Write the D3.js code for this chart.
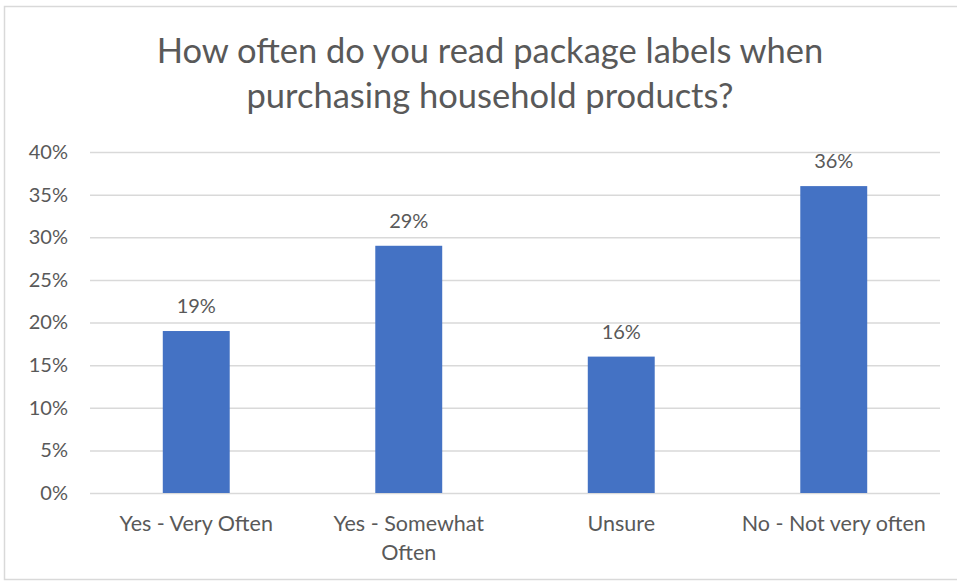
<!DOCTYPE html>
<html>
<head>
<meta charset="utf-8">
<script src="https://cdn.jsdelivr.net/npm/d3@7"></script>
<style>
  html, body { margin: 0; padding: 0; background: #fff; }
  svg { display: block; font-family: Lato, "Open Sans", sans-serif; }
</style>
</head>
<body>
<svg id="chart" width="957" height="582"></svg>
<script>
// Survey responses (share of respondents)
const categories = ["Yes - Very Often", "Yes - Somewhat Often", "Unsure", "No - Not very often"];
const categoryLines = [["Yes - Very Often"], ["Yes - Somewhat", "Often"], ["Unsure"], ["No - Not very often"]];
const shares = [0.19, 0.29, 0.16, 0.36];
const yTicks = [0, 0.05, 0.10, 0.15, 0.20, 0.25, 0.30, 0.35, 0.40];
const titleLines = ["How often do you read package labels when", "purchasing household products?"];

const svg = d3.select("#chart");
const W = 957, H = 582;
const margin = { left: 90, right: 17, top: 152, bottom: 89 };
const textColor = "#595959";
const gridColor = "#d9d9d9";
const barColor = "#4472c4";

// Chart frame
svg.append("rect")
  .attr("x", 4.5).attr("y", 6.5)
  .attr("width", W + 10).attr("height", H - 9)
  .attr("fill", "#fff").attr("stroke", "#d9d9d9").attr("stroke-width", 1.5);

const x = d3.scaleBand()
  .domain(categories)
  .range([margin.left, W - margin.right])
  .paddingInner(0.685).paddingOuter(0.3425);

const y = d3.scaleLinear()
  .domain([0, 0.40])
  .range([H - margin.bottom, margin.top]);

// Title
svg.append("g").selectAll("text")
  .data(titleLines)
  .join("text")
  .attr("x", 490)
  .attr("y", (d, i) => 63 + i * 45)
  .attr("text-anchor", "middle")
  .attr("font-size", 34.5)
  .attr("fill", textColor)
  .text(d => d);

// Gridlines and value axis
const yAxis = d3.axisLeft(y)
  .tickValues(yTicks)
  .tickFormat(d3.format(".0%"))
  .tickSize(-(W - margin.right - margin.left))
  .tickPadding(22);

const gy = svg.append("g")
  .attr("transform", `translate(${margin.left},0)`)
  .call(yAxis);
gy.select(".domain").remove();
gy.selectAll(".tick line").attr("stroke", gridColor).attr("stroke-width", 1.5);
gy.selectAll(".tick text")
  .attr("fill", textColor)
  .attr("font-size", 20)
  .attr("font-family", "Lato, sans-serif");

// Bars
svg.append("g").selectAll("rect")
  .data(shares)
  .join("rect")
  .attr("x", (d, i) => x(categories[i]))
  .attr("y", d => y(d))
  .attr("width", x.bandwidth())
  .attr("height", d => y(0) - y(d))
  .attr("fill", barColor);

// Data labels
svg.append("g").selectAll("text")
  .data(shares)
  .join("text")
  .attr("x", (d, i) => x(categories[i]) + x.bandwidth() / 2)
  .attr("y", d => y(d) - 18)
  .attr("text-anchor", "middle")
  .attr("font-size", 20)
  .attr("fill", textColor)
  .text(d => d3.format(".0%")(d));

// Category axis labels
const gx = svg.append("g");
categoryLines.forEach((lines, i) => {
  const cx = x(categories[i]) + x.bandwidth() / 2;
  const t = gx.append("text")
    .attr("x", cx)
    .attr("y", H - margin.bottom + 38)
    .attr("text-anchor", "middle")
    .attr("font-size", 21.5)
    .attr("fill", textColor);
  lines.forEach((ln, j) => {
    t.append("tspan").attr("x", cx).attr("dy", j === 0 ? 0 : 29).text(ln);
  });
});
</script>
</body>
</html>
